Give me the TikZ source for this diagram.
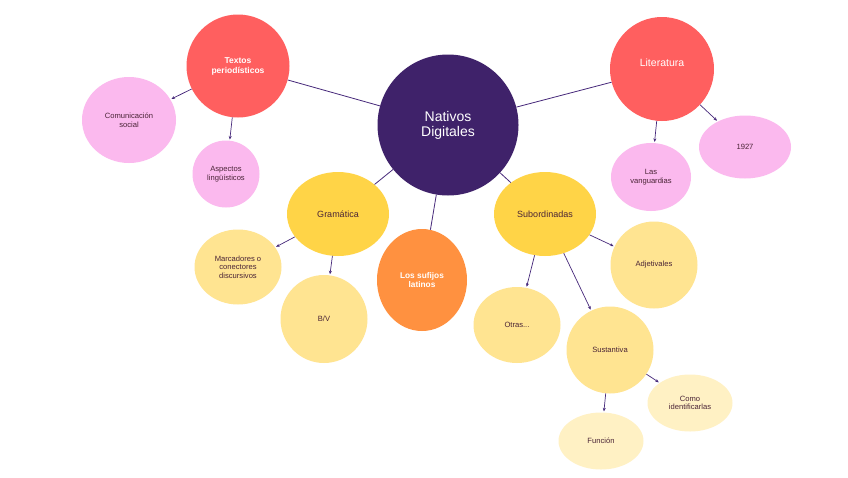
\documentclass[tikz,border=0pt]{standalone}
\usepackage{fontspec}
\setmainfont{Liberation Sans}
\usetikzlibrary{shapes.geometric,arrows.meta}
\definecolor{cpurple}{HTML}{3F226A}
\definecolor{cred}{HTML}{FF5F5F}
\definecolor{cpink}{HTML}{FBB9EE}
\definecolor{cyellow}{HTML}{FFD447}
\definecolor{clyellow}{HTML}{FFE491}
\definecolor{cvlyellow}{HTML}{FFF1C4}
\definecolor{corange}{HTML}{FF9140}
\definecolor{ctext}{HTML}{4A2436}
\definecolor{cline}{HTML}{46287A}
\tikzset{
  bub/.style={ellipse, inner sep=0pt, align=center, text=ctext, font=\fontsize{7.6}{8.6}\selectfont},
  link/.style={draw=cline, line width=0.8pt},
  arr/.style={draw=cline, line width=0.7pt, -{Stealth[length=3.5pt,width=3pt]}, shorten >=1pt},
}
\begin{document}
\begin{tikzpicture}[x=1pt,y=-1pt]
\useasboundingbox[fill=white] (0,0) rectangle (848,477);
% nodes
\node[bub, fill=cpurple, minimum width=141, minimum height=141, text=white, font=\fontsize{14}{15}\selectfont] (nd) at (448,125) {Nativos\\Digitales};
\node[bub, fill=cred, minimum width=103, minimum height=103, text=white, font=\bfseries\fontsize{8.5}{10}\selectfont] (tp) at (238,66) {Textos\\periodísticos};
\node[bub, fill=cred, minimum width=104, minimum height=104] (lit) at (662,69) {};
\node[text=white, font=\fontsize{10.5}{12}\selectfont] at (662,63) {Literatura};
\node[bub, fill=cpink, minimum width=94, minimum height=86] (cs) at (129,120) {Comunicación\\social};
\node[bub, fill=cpink, minimum width=67, minimum height=67] (al) at (226,174) {Aspectos\\lingüísticos};
\node[bub, fill=cpink, minimum width=80, minimum height=68] (lv) at (651,177) {Las\\vanguardias};
\node[bub, fill=cpink, minimum width=92, minimum height=63] (y27) at (745,147) {1927};
\node[bub, fill=cyellow, minimum width=102, minimum height=84, font=\fontsize{9}{10}\selectfont] (gr) at (338,214) {Gramática};
\node[bub, fill=cyellow, minimum width=102, minimum height=84, font=\fontsize{9}{10}\selectfont] (sub) at (545,214) {Subordinadas};
\node[bub, fill=corange, minimum width=90, minimum height=102, text=white, font=\bfseries\fontsize{8.3}{9.8}\selectfont] (suf) at (422,280) {Los sufijos\\latinos};
\node[bub, fill=clyellow, minimum width=87, minimum height=75] (mc) at (238,267) {Marcadores o\\conectores\\discursivos};
\node[bub, fill=clyellow, minimum width=87, minimum height=88] (bv) at (324,319) {B/V};
\node[bub, fill=clyellow, minimum width=87, minimum height=87] (adj) at (654,265) {Adjetivales};
\node[bub, fill=clyellow, minimum width=87, minimum height=76] (otr) at (517,325) {Otras...};
\node[bub, fill=clyellow, minimum width=87, minimum height=87] (sus) at (610,350) {Sustantiva};
\node[bub, fill=cvlyellow, minimum width=85, minimum height=57] (com) at (690,403) {Como\\identificarlas};
\node[bub, fill=cvlyellow, minimum width=85, minimum height=57] (fun) at (601,441) {Función};
% links from centre
\draw[link] (nd) -- (tp);
\draw[link] (nd) -- (lit);
\draw[link] (nd) -- (gr);
\draw[link] (nd) -- (sub);
\draw[link] (nd) -- (suf);
% arrows
\draw[arr] (tp) -- (cs);
\draw[arr] (tp) -- (al);
\draw[arr] (lit) -- (lv);
\draw[arr] (lit) -- (y27);
\draw[arr] (gr) -- (mc);
\draw[arr] (gr) -- (bv);
\draw[arr] (sub) -- (adj);
\draw[arr] (sub) -- (otr);
\draw[arr] (sub) -- (sus);
\draw[arr] (sus) -- (com);
\draw[arr] (sus) -- (fun);
\end{tikzpicture}
\end{document}
